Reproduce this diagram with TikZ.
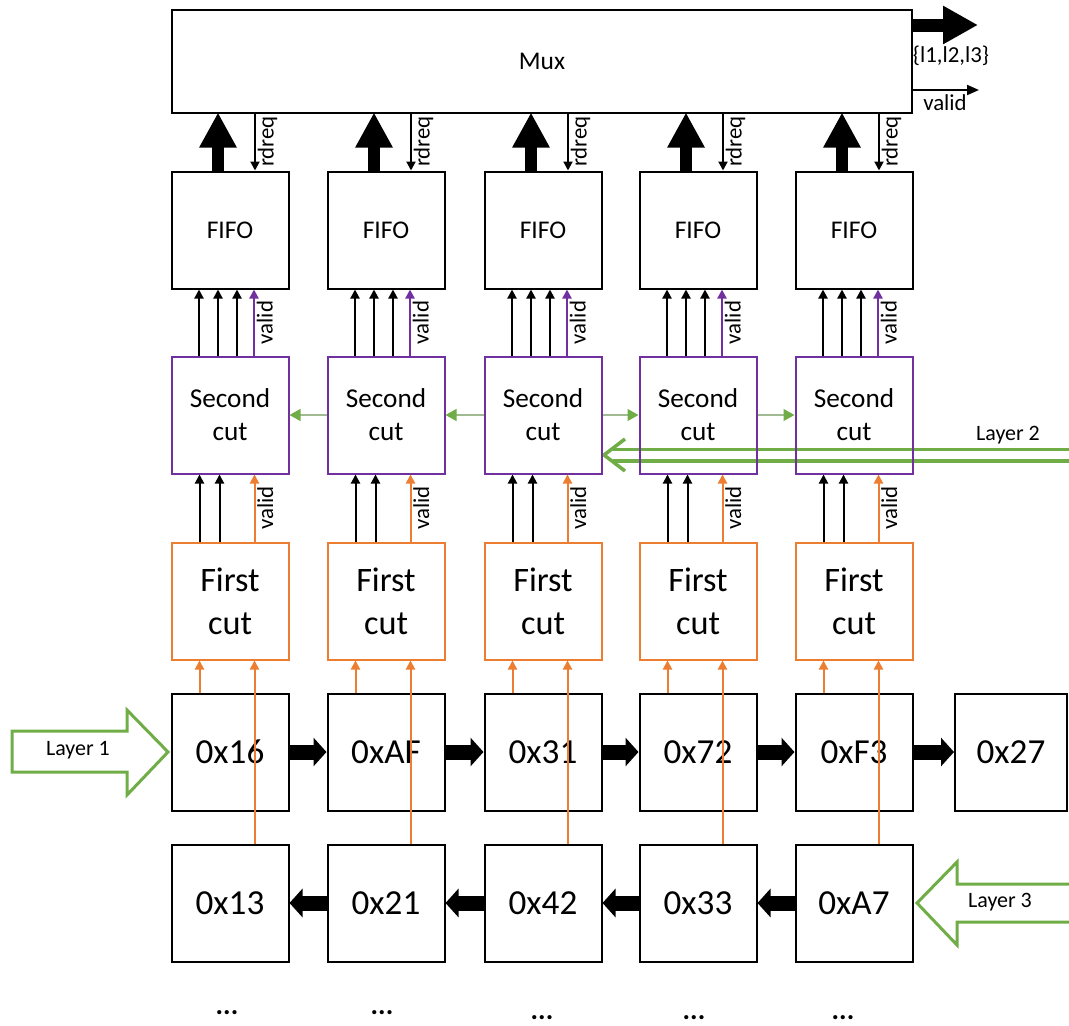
\documentclass[tikz,border=0pt]{standalone}
\usepackage{fontspec}
\setmainfont{Carlito}
\usetikzlibrary{arrows.meta}
\definecolor{cutpurple}{HTML}{7030A0}
\definecolor{cutorange}{HTML}{ED7D31}
\definecolor{layergreen}{HTML}{70AD47}
\definecolor{linkgreen}{RGB}{160,186,145}
\pgfdeclarelayer{background}
\pgfsetlayers{background,main}

\begin{document}
\begin{tikzpicture}[x=0.2mm, y=-0.2mm,
  blk/.style={draw, line width=0.4mm, minimum width=23.4mm, minimum height=23.4mm, inner sep=0pt, align=center},
  fifobox/.style={blk, font=\fontsize{14.5}{17}\selectfont},
  secbox/.style={blk, draw=cutpurple, font=\fontsize{15.5}{18.8}\selectfont},
  firstbox/.style={blk, draw=cutorange, font=\fontsize{19.5}{24.5}\selectfont},
  cellbox/.style={blk, font=\fontsize{20}{24}\selectfont},
  sig/.style={line width=0.4mm, -{Triangle[length=1.8mm,width=1.8mm]}},
  bus/.style={line width=2.4mm, -{Triangle[length=7mm,width=7mm]}},
  hop/.style={line width=3mm, -{Triangle[length=2.6mm,width=5.6mm]}},
  link/.style={linkgreen, line width=0.25mm, -{Triangle[length=2.2mm,width=2.4mm,color=layergreen]}},
  tag/.style={font=\fontsize{12.5}{14}\selectfont, inner sep=1pt},
  vtag/.style={tag, font=\fontsize{13}{15}\selectfont, rotate=90, anchor=north, midway},
  blockarrow/.style={draw=layergreen, line width=0.6mm, line join=miter}]
\useasboundingbox (0,0) rectangle (1069,1026);

% mux and its outputs
\node[blk, minimum width=148mm, minimum height=20.6mm, font=\fontsize{14.5}{17}\selectfont] (mux) at (542,61.5) {Mux};
\coordinate (busout) at (978,25);
\coordinate (validout) at (979,90);
\draw[line width=2.6mm, -{Triangle[length=7mm,width=7.2mm]}] (mux.east |- busout) -- (busout);
\node[tag, font=\fontsize{13}{15}\selectfont] (bustag) at (951,56) {\{l1,l2,l3\}};
\draw[line width=0.4mm, -{Triangle[length=2.4mm,width=2mm]}] (mux.east |- validout) -- (validout);
\node[tag, font=\fontsize{13}{15}\selectfont] (validtag) at (945,103) {valid};

% columns
\foreach \i/\x/\a/\b in {1/230/0x16/0x13, 2/386/0xAF/0x21, 3/543/0x31/0x42, 4/698/0x72/0x33, 5/854/0xF3/0xA7} {
  \node[fifobox] (fifo\i) at (\x,230) {FIFO};
  \node[secbox] (sec\i) at (\x,415) {Second\\cut};
  \node[firstbox] (first\i) at (\x,601) {First\\cut};
  \node[cellbox] (top\i) at (\x,752) {\a};
  \node[cellbox] (bot\i) at (\x,903) {\b};
  \draw[bus] ([xshift=-2.4mm]fifo\i.north) -- ([xshift=-2.4mm,yshift=11.6mm]fifo\i.north);
  \draw[sig] ([xshift=5mm,yshift=11.6mm]fifo\i.north) -- node[vtag] {rdreq} ([xshift=5mm]fifo\i.north);
  \foreach \d in {-6.2,-2.4,1.4}
    \draw[sig] ([xshift=\d mm]sec\i.north) -- ([xshift=\d mm]fifo\i.south);
  \draw[sig, cutpurple] ([xshift=4.8mm]sec\i.north) -- node[vtag, black] {valid} ([xshift=4.8mm]fifo\i.south);
  \foreach \d in {-6.1,-2.1}
    \draw[sig] ([xshift=\d mm]first\i.north) -- ([xshift=\d mm]sec\i.south);
  \draw[sig, cutorange] ([xshift=4.9mm]first\i.north) -- node[vtag, black] {valid} ([xshift=4.9mm]sec\i.south);
  \draw[sig, cutorange] ([xshift=-6.1mm]top\i.north) -- ([xshift=-6.1mm]first\i.south);
  \draw[sig, cutorange] ([xshift=4.9mm]bot\i.north) -- ([xshift=4.9mm]first\i.south);
}
\node[cellbox, minimum width=22.4mm] (top6) at (1011,752) {0x27};

% shift chains
\foreach \i/\j in {1/2,2/3,3/4,4/5,5/6} \draw[hop] (top\i.east) -- (top\j.west);
\foreach \i/\j in {2/1,3/2,4/3,5/4} \draw[hop] (bot\i.west) -- (bot\j.east);

% links between second cuts
\draw[link] (sec2.west) -- (sec1.east);
\draw[link] (sec3.west) -- (sec2.east);
\draw[link] (sec3.east) -- (sec4.west);
\draw[link] (sec4.east) -- (sec5.west);

% layer inputs
\coordinate (l2start) at (1072,455);
\coordinate (l2tip) at (604,455);
\begin{pgfonlayer}{background}
\draw[layergreen, line width=0.7mm, double=white, double distance=1.6mm] (l2start) -- ([xshift=1.8mm]l2tip);
\draw[layergreen, line width=0.7mm, line join=miter] ([shift={(21,-16)}]l2tip) -- (l2tip) -- ([shift={(21,16)}]l2tip);
\end{pgfonlayer}
\node[tag] (l2) at (1008,435) {Layer 2};
\draw[blockarrow] (12,731) -- (127,731) -- (127,710) -- (168,752) -- (127,795) -- (127,772) -- (12,772) -- cycle;
\node[tag] (l1) at (78,750) {Layer 1};
\draw[blockarrow] (1072,884) -- (957,884) -- (957,862) -- (917,903) -- (957,945) -- (957,922) -- (1072,922);
\node[tag] (l3) at (1000,902) {Layer 3};

% continuation
\foreach \x/\y [count=\k] in {227/1013,382/1013,542/1018,694/1018,843/1018}
  \node[font=\fontsize{16}{18}\selectfont\bfseries] (dots\k) at (\x,\y) {...};
\end{tikzpicture}
\end{document}
